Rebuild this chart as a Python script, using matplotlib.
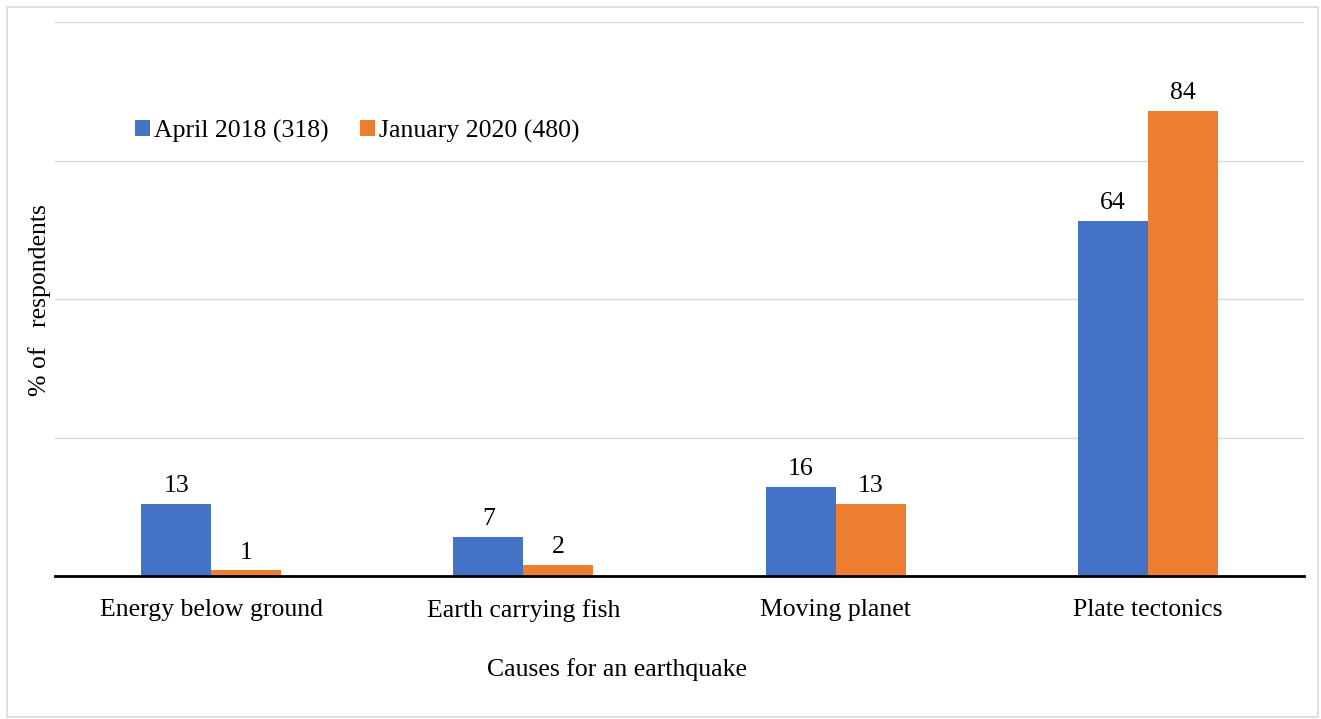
import matplotlib
matplotlib.use("Agg")
import matplotlib.pyplot as plt
from matplotlib.patches import Rectangle
import numpy as np

categories = ["Energy below ground", "Earth carrying fish", "Moving planet", "Plate tectonics"]
april_2018 = [13, 7, 16, 64]
january_2020 = [1, 2, 13, 84]
series_names = ["April 2018 (318)", "January 2020 (480)"]
colors = ["#4472C4", "#ED7D31"]

plt.rcParams['font.family'] = ['Liberation Serif', 'DejaVu Serif']
FS = 18.5

W, H = 1321, 719
fig = plt.figure(figsize=(W / 100, H / 100), dpi=100)
ax = fig.add_axes([55 / W, (H - 576) / H, (1304 - 55) / W, (576 - 22) / H])

x = np.arange(len(categories))
bw = 0.224
b1 = ax.bar(x - bw / 2, april_2018, bw, color=colors[0], label=series_names[0], zorder=3)
b2 = ax.bar(x + bw / 2, january_2020, bw, color=colors[1], label=series_names[1], zorder=3)
for bars, vals in ((b1, april_2018), (b2, january_2020)):
    for r, v in zip(bars, vals):
        ax.annotate(str(v), (r.get_x() + r.get_width() / 2, r.get_height()),
                    xytext=(0, 5), textcoords="offset points", ha="center", va="bottom",
                    fontsize=FS)

ax.set_xlim(-0.5, 3.5)
ax.set_ylim(0, 100)
ax.set_yticks([0, 25, 50, 75, 100])
ax.yaxis.grid(True, color="#d9d9d9", linewidth=1, zorder=0)
ax.tick_params(axis="y", left=False, labelleft=False)
ax.set_xticks(x)
ax.set_xticklabels(categories, fontsize=FS)
ax.tick_params(axis="x", bottom=False, pad=13)
for s in ("top", "right", "left"):
    ax.spines[s].set_visible(False)
ax.spines["bottom"].set_linewidth(2)
ax.spines["bottom"].set_color("black")
ax.spines["bottom"].set_zorder(4)

fig.text(617 / W, (H - 670) / H, "Causes for an earthquake", ha="center", va="center", fontsize=FS)
fig.text(40 / W, (H - 300) / H, "% of   respondents", ha="center", va="center", rotation=90, fontsize=FS)

leg = fig.legend(loc="center left", bbox_to_anchor=(135 / W, (H - 131) / H), ncol=2, frameon=False,
                 fontsize=FS, handlelength=0.6, handleheight=0.6, handletextpad=0.15,
                 columnspacing=1.2, borderaxespad=0, borderpad=0)

fig.patches.append(Rectangle((7 / W, 2 / H), (1318 - 7) / W, (712 - 2) / H, transform=fig.transFigure,
                             fill=False, edgecolor="#d9d9d9", linewidth=1.2))

fig.savefig("out.png", dpi=100)
